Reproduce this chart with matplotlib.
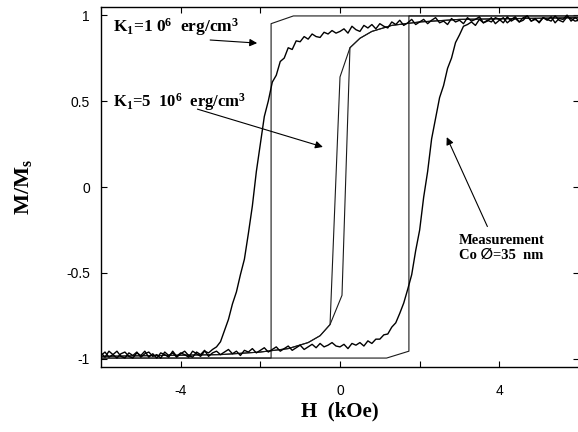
import matplotlib
matplotlib.use('Agg')
import matplotlib.pyplot as plt

plt.rcParams['font.family'] = ['Liberation Sans', 'DejaVu Sans']
plt.rcParams['axes.unicode_minus'] = False
plt.rcParams['mathtext.fontset'] = 'custom'
plt.rcParams['mathtext.rm'] = 'Liberation Serif:bold'
plt.rcParams['mathtext.it'] = 'Liberation Serif:bold'
plt.rcParams['mathtext.bf'] = 'Liberation Serif:bold'

# ---------------- data ----------------
H_meas = [-6.0, -5.9, -5.8, -5.7, -5.6, -5.5, -5.4, -5.3, -5.2, -5.1,
          -5.0, -4.9, -4.8, -4.7, -4.6, -4.5, -4.4, -4.3, -4.2, -4.1,
          -4.0, -3.9, -3.8, -3.7, -3.6, -3.5, -3.4, -3.3, -3.2, -3.1,
          -3.0, -2.9, -2.8, -2.7, -2.6, -2.5, -2.4, -2.3, -2.2, -2.1,
          -2.0, -1.9, -1.8, -1.7, -1.6, -1.5, -1.4, -1.3, -1.2, -1.1,
          -1.0, -0.9, -0.8, -0.7, -0.6, -0.5, -0.4, -0.3, -0.2, -0.1,
          0.0, 0.1, 0.2, 0.3, 0.4, 0.5, 0.6, 0.7, 0.8, 0.9,
          1.0, 1.1, 1.2, 1.3, 1.4, 1.5, 1.6, 1.7, 1.8, 1.9,
          2.0, 2.1, 2.2, 2.3, 2.4, 2.5, 2.6, 2.7, 2.8, 2.9,
          3.0, 3.1, 3.2, 3.3, 3.4, 3.5, 3.6, 3.7, 3.8, 3.9,
          4.0, 4.1, 4.2, 4.3, 4.4, 4.5, 4.6, 4.7, 4.8, 4.9,
          5.0, 5.1, 5.2, 5.3, 5.4, 5.5, 5.6, 5.7, 5.8, 5.9,
          6.0]

# measured descending branch (field decreasing)
M_meas_desc = [-0.965, -0.99, -0.955, -0.975, -0.995, -0.97, -0.96, -0.985, -0.995, -0.965,
               -0.98, -0.955, -0.99, -0.97, -0.995, -0.965, -0.975, -0.99, -0.955, -0.985,
               -0.965, -0.975, -0.99, -0.955, -0.97, -0.985, -0.955, -0.965, -0.945, -0.93,
               -0.90, -0.835, -0.77, -0.68, -0.61, -0.51, -0.42, -0.27, -0.11, 0.09,
               0.25, 0.41, 0.50, 0.61, 0.65, 0.73, 0.75, 0.81, 0.80, 0.85,
               0.845, 0.875, 0.86, 0.89, 0.875, 0.87, 0.90, 0.89, 0.91, 0.895,
               0.905, 0.92, 0.895, 0.935, 0.915, 0.905, 0.94, 0.925, 0.945, 0.92,
               0.95, 0.935, 0.925, 0.96, 0.945, 0.97, 0.94, 0.955, 0.975, 0.945,
               0.96, 0.975, 0.95, 0.97, 0.985, 0.955, 0.965, 0.945, 0.98, 0.96,
               0.97, 0.95, 0.985, 0.965, 0.975, 0.99, 0.955, 0.97, 0.96, 0.985,
               0.975, 0.955, 0.99, 0.965, 0.98, 0.96, 0.985, 0.995, 0.965, 0.975,
               0.96, 0.985, 0.97, 0.99, 0.955, 0.98, 0.975, 1.0, 0.965, 0.985,
               0.97]

# measured ascending branch (field increasing)
M_meas_asc = [-0.98, -0.96, -0.99, -0.975, -0.955, -0.985, -0.995, -0.965, -0.98, -0.96,
              -0.99, -0.97, -0.96, -0.985, -0.975, -0.995, -0.96, -0.98, -0.965, -0.99,
              -0.97, -0.955, -0.98, -0.99, -0.96, -0.975, -0.95, -0.985, -0.965, -0.955,
              -0.975, -0.96, -0.945, -0.97, -0.955, -0.98, -0.95, -0.96, -0.94, -0.965,
              -0.95, -0.935, -0.96, -0.945, -0.93, -0.955, -0.94, -0.925, -0.95, -0.935,
              -0.92, -0.945, -0.93, -0.915, -0.935, -0.91, -0.93, -0.92, -0.905, -0.925,
              -0.93, -0.915, -0.94, -0.91, -0.92, -0.905, -0.925, -0.895, -0.91, -0.885,
              -0.885, -0.86, -0.855, -0.815, -0.79, -0.735, -0.675, -0.595, -0.51, -0.37,
              -0.25, -0.06, 0.09, 0.28, 0.40, 0.52, 0.59, 0.69, 0.75, 0.84,
              0.885, 0.935, 0.945, 0.96, 0.94, 0.975, 0.955, 0.965, 0.985, 0.95,
              0.97, 0.985, 0.955, 0.975, 0.99, 0.96, 0.97, 0.995, 0.965, 0.98,
              0.955, 0.985, 0.975, 0.965, 0.995, 0.97, 0.96, 0.99, 0.98, 0.965,
              0.97]

# simulation K1 = 1e6 erg/cm3
H_k1_desc = [6.0, -1.17, -1.73, -1.73, -6.0]
M_k1_desc = [0.995, 0.995, 0.95, -0.995, -0.995]
H_k1_asc = [-6.0, 1.17, 1.73, 1.73, 6.0]
M_k1_asc = [-0.995, -0.995, -0.955, 0.995, 0.995]

# simulation K1 = 5e6 erg/cm3
H_k5_desc = [6.0, 3.0, 2.0, 1.3, 0.8, 0.5, 0.25, 0.05, -0.25, -0.5, -0.8, -1.3, -2.0, -3.0, -6.0]
M_k5_desc = [0.985, 0.975, 0.96, 0.94, 0.905, 0.865, 0.81, -0.63, -0.80, -0.865, -0.905, -0.94, -0.96, -0.975, -0.985]
H_k5_asc = [-6.0, -3.0, -2.0, -1.3, -0.8, -0.5, -0.25, 0.0, 0.25, 0.5, 0.8, 1.3, 2.0, 3.0, 6.0]
M_k5_asc = [-0.985, -0.975, -0.96, -0.94, -0.905, -0.865, -0.80, 0.64, 0.81, 0.865, 0.905, 0.94, 0.96, 0.975, 0.985]

x_major = [-4, 0, 4]
x_minor = [-2, 2]
y_ticks = [-1, -0.5, 0, 0.5, 1]
y_labels = ['-1', '-0.5', '0', '0.5', '1']

# ---------------- figure ----------------
fig = plt.figure(figsize=(5.78, 4.32), dpi=100)
ax = fig.add_axes([101 / 578, 1 - 367 / 432, 478 / 578, 360 / 432])

ax.plot(H_k1_desc, M_k1_desc, color='#1a1a1a', lw=0.8)
ax.plot(H_k1_asc, M_k1_asc, color='#1a1a1a', lw=0.8)
ax.plot(H_k5_desc, M_k5_desc, color='#1a1a1a', lw=0.8)
ax.plot(H_k5_asc, M_k5_asc, color='#1a1a1a', lw=0.8)
ax.plot(H_meas, M_meas_desc, color='black', lw=1.0)
ax.plot(H_meas, M_meas_asc, color='black', lw=1.0)

ax.set_xlim(-6, 6)
ax.set_ylim(-1.047, 1.047)
ax.set_xticks(x_major)
ax.set_xticks(x_minor, minor=True)
ax.set_yticks(y_ticks)
ax.set_yticklabels(y_labels)
ax.tick_params(which='both', direction='in', top=True, right=True, length=4.5, width=0.8)
ax.tick_params(axis='x', pad=12, labelsize=10)
ax.tick_params(axis='y', pad=8, labelsize=10)
for s in ax.spines.values():
    s.set_linewidth(1.0)

serif = ['Liberation Serif', 'DejaVu Sans']
fig.text(340 / 578, 1 - 411 / 432, 'H  (kOe)', ha='center', va='center',
         fontsize=15, fontweight='bold', family=serif)
fig.text(24 / 578, 1 - 187 / 432, 'M/M$_\\mathrm{s}$', ha='center', va='center',
         rotation=90, fontsize=16, fontweight='bold', family=serif)

ax.text(-5.71, 0.93, 'K$_1$=1 0$^6$  erg/cm$^3$', ha='left', va='center',
        fontsize=12.5, fontweight='bold', family=serif)
ax.text(-5.71, 0.494, 'K$_1$=5  10$^6$  erg/cm$^3$', ha='left', va='center',
        fontsize=12, fontweight='bold', family=serif)
ax.text(2.98, -0.31, 'Measurement', ha='left', va='center',
        fontsize=10.5, fontweight='bold', family=serif)
ax.text(2.98, -0.395, 'Co \u2205=35  nm', ha='left', va='center',
        fontsize=10.5, fontweight='bold', family=serif)

arrow = dict(arrowstyle='-|>', lw=0.8, color='black', mutation_scale=11,
             shrinkA=0, shrinkB=0)
ax.annotate('', xy=(-2.08, 0.837), xytext=(-3.26, 0.855), arrowprops=arrow)
ax.annotate('', xy=(-0.43, 0.233), xytext=(-3.58, 0.453), arrowprops=arrow)
ax.annotate('', xy=(2.68, 0.29), xytext=(3.7, -0.23), arrowprops=arrow)

fig.savefig('out.png', dpi=100)
